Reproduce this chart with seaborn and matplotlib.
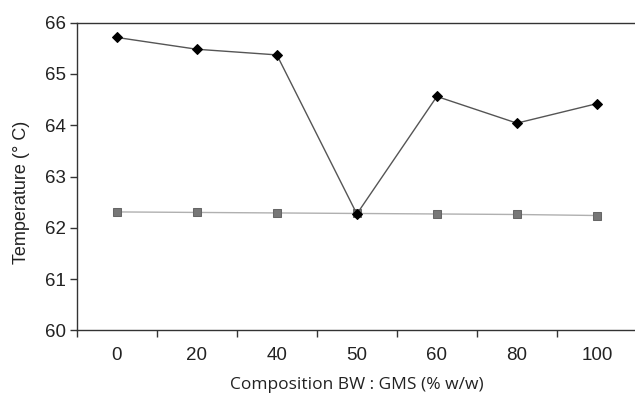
import matplotlib
matplotlib.use("Agg")
import matplotlib.pyplot as plt
import seaborn as sns
import pandas as pd
from matplotlib.ticker import FixedLocator

categories = ["0", "20", "40", "50", "60", "80", "100"]
series_black = [65.71, 65.48, 65.37, 62.27, 64.56, 64.04, 64.42]
series_gray = [62.31, 62.30, 62.29, 62.28, 62.27, 62.26, 62.24]
y_ticks = [60, 61, 62, 63, 64, 65, 66]

sns.set_style("white")
plt.rcParams['font.family'] = ['Liberation Sans', 'DejaVu Sans']

df_b = pd.DataFrame({"comp": categories, "temp": series_black})
df_g = pd.DataFrame({"comp": categories, "temp": series_gray})

fig = plt.figure(figsize=(6.35, 4.03), dpi=100)
ax = fig.add_axes([0.121, 0.180, 1.003 - 0.121, 0.944 - 0.180])

sns.pointplot(data=df_g, x="comp", y="temp", order=categories, ax=ax,
              color="#b0b0b0", markers="s", markersize=5.5, linewidth=1.0,
              markeredgecolor="#666666", markerfacecolor="#777777")
sns.pointplot(data=df_b, x="comp", y="temp", order=categories, ax=ax,
              color="#555555", markers="D", markersize=5.5, linewidth=1.0,
              markeredgecolor="black", markerfacecolor="black")

ax.set_xlim(-0.5, 6.5)
ax.set_ylim(60, 66)
ax.set_yticks(y_ticks)
ax.set_yticklabels([str(t) for t in y_ticks], fontsize=13.5, color="#222222")
ax.set_xticks(range(len(categories)))
ax.set_xticklabels(categories, fontsize=13.5, color="#222222")
ax.xaxis.set_minor_locator(FixedLocator([i + 0.5 for i in range(-1, len(categories))]))
ax.tick_params(axis="x", which="major", length=0, pad=12)
ax.tick_params(axis="x", which="minor", length=5, width=1, color="#333333", direction="out", bottom=True)
ax.tick_params(axis="y", which="major", length=5, width=1, color="#333333", direction="out", left=True, pad=3)

for side in ["left", "bottom", "top"]:
    ax.spines[side].set_visible(True)
    ax.spines[side].set_color("#333333")
    ax.spines[side].set_linewidth(1.0)
ax.spines["right"].set_visible(False)

ax.set_xlabel("Composition BW : GMS (% w/w)", fontsize=12.5, family=["Open Sans", "DejaVu Sans"], color="#222222", labelpad=9)
ax.set_ylabel("Temperature (° C)", fontsize=13, color="#222222")
ax.yaxis.set_label_coords(-0.084, 0.45)

fig.savefig("out.png", dpi=100)
